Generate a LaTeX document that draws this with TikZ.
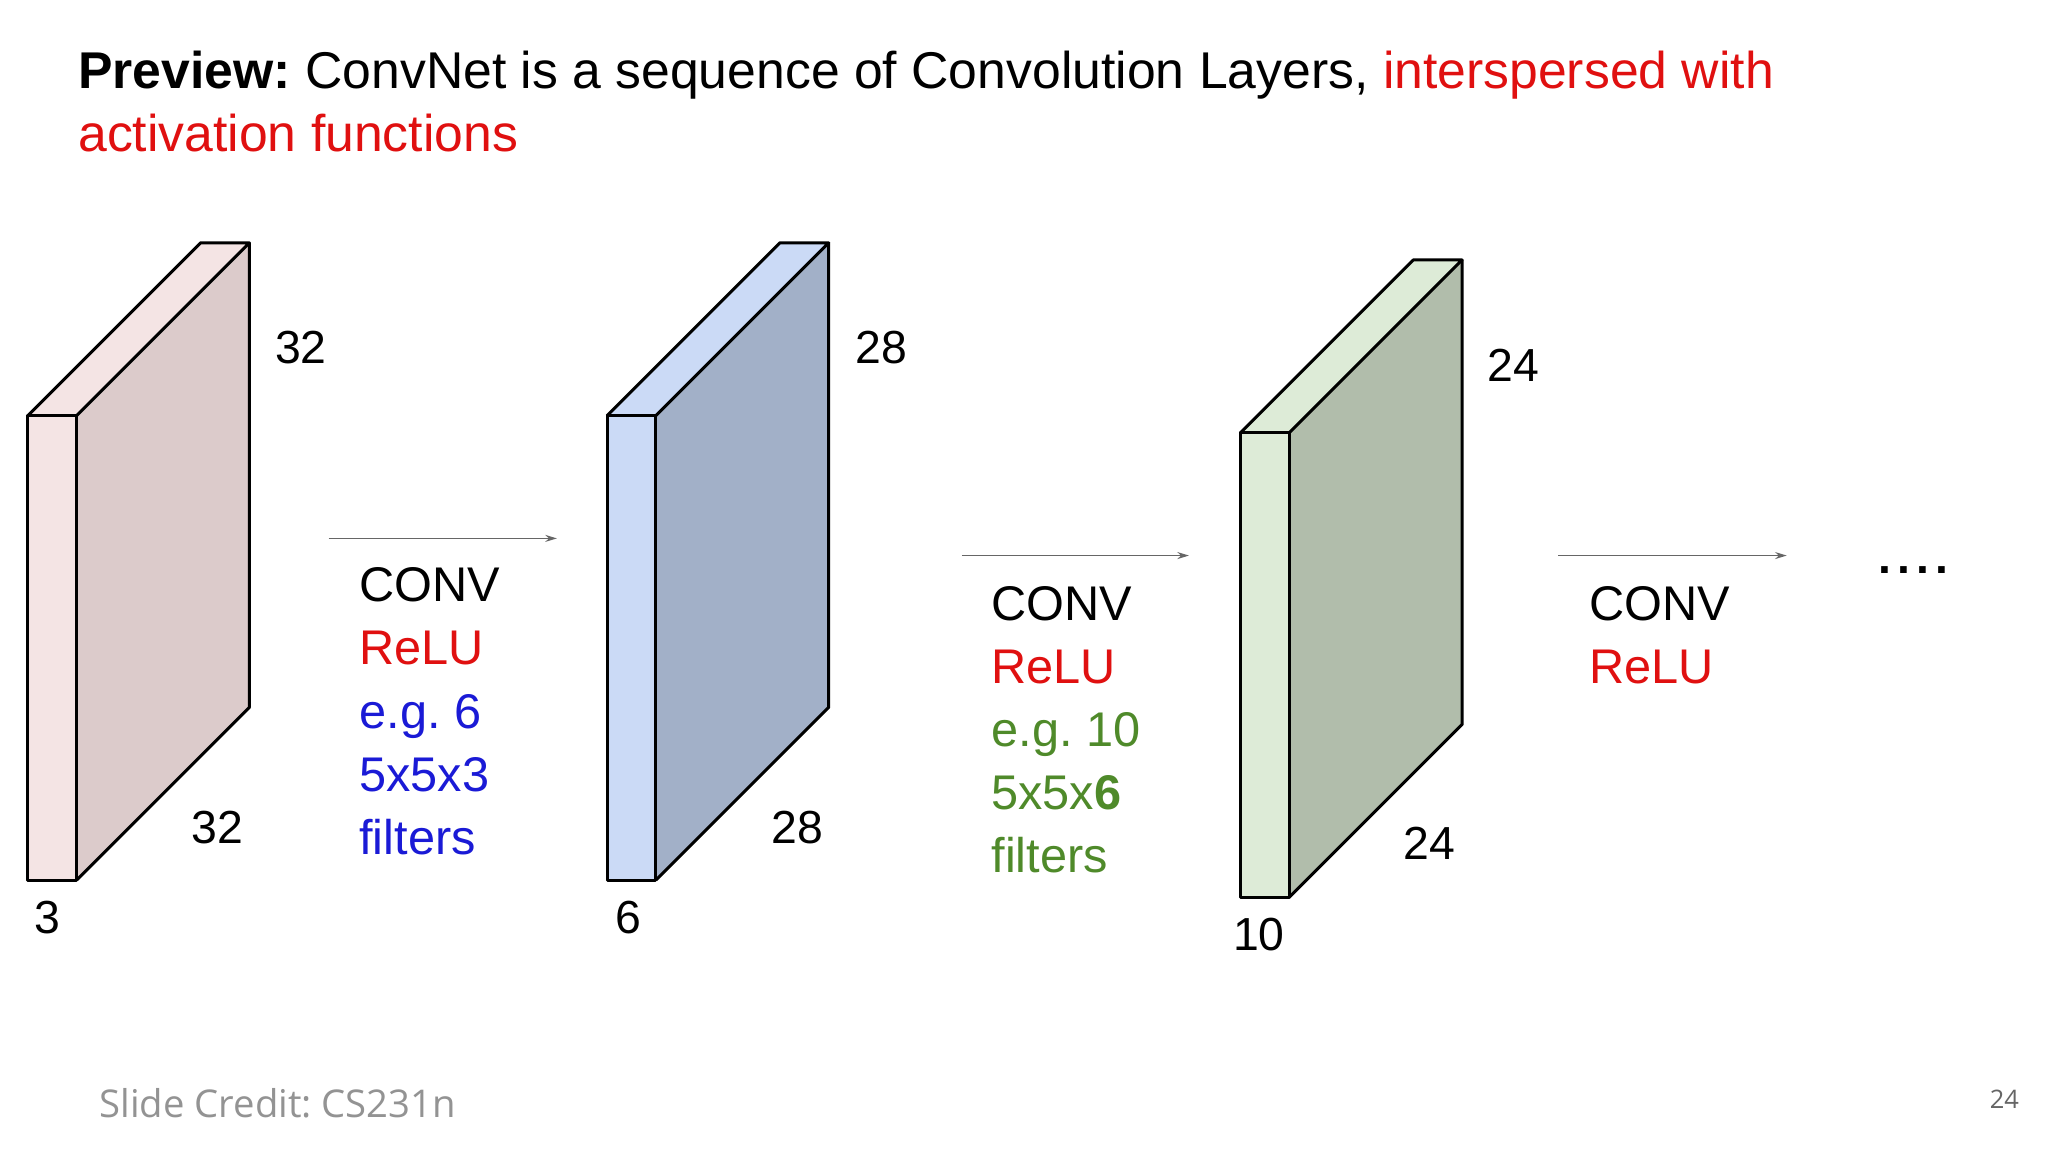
\documentclass[tikz,border=0pt]{standalone}
\usepackage{fontspec}
\usetikzlibrary{arrows.meta}
\setmainfont{Liberation Sans}
\newfontfamily\credfont{Open Sans}
\frenchspacing
\definecolor{cred}{HTML}{E01010}
\definecolor{cblue}{HTML}{1A1AD6}
\definecolor{cgreen}{HTML}{4F8A2A}
\definecolor{pinkF}{HTML}{F4E4E4}
\definecolor{pinkS}{HTML}{DCCBCB}
\definecolor{blueF}{HTML}{CBDAF6}
\definecolor{blueS}{HTML}{A2B0C8}
\definecolor{greenF}{HTML}{DDEBD7}
\definecolor{greenS}{HTML}{B1BDAB}
\tikzset{
 lbl/.style={font=\fontsize{20}{24}\selectfont, inner sep=0pt},
 blk/.style={font=\fontsize{21}{27.2}\selectfont, align=left, anchor=north west, inner sep=0pt},
 arr/.style={draw=gray!80!black, line width=0.7pt, -{Stealth[length=5pt,width=3pt]}},
 face/.style={draw=black, line width=1.3pt, line join=round}
}
\newcommand{\slab}[6]{%
 \fill[#3] (#1,#2) rectangle (#1+37,#2+352);
 \fill[#3] (#1,#2) -- (#1+37,#2) -- (#1+168,#2-131) -- (#1+131,#2-131) -- cycle;
 \fill[#4] (#1+37,#2) -- (#1+168,#2-131) -- (#1+168,#2+221) -- (#1+37,#2+352) -- cycle;
 \draw[face] (#1,#2) rectangle (#1+37,#2+352);
 \draw[face] (#1,#2) -- (#1+131,#2-131) -- (#1+168,#2-131) -- (#1+37,#2);
 \draw[face] (#1+168,#2-131) -- (#1+168,#2+221) -- (#1+37,#2+352);
}
\begin{document}
\begin{tikzpicture}[x=0.02cm,y=-0.02cm]
\useasboundingbox[fill=white] (0,0) rectangle (1552,873);
\node[anchor=base west, inner sep=0pt, font=\fontsize{22.3}{26}\selectfont] (t1) at (59,67) {\textbf{Preview:} ConvNet is a sequence of Convolution Layers, \textcolor{cred}{interspersed with}};
\node[anchor=base west, inner sep=0pt, font=\fontsize{22.3}{26}\selectfont, text=cred] (t2) at (59,115) {activation functions};

\slab{21}{315}{pinkF}{pinkS}{}{}
\slab{460}{315}{blueF}{blueS}{}{}
\slab{940}{328}{greenF}{greenS}{}{}

\node[lbl] (a1) at (228,263) {32};
\node[lbl] (a2) at (165,627) {32};
\node[lbl] (a3) at (36,695) {3};
\node[lbl] (b1) at (668,263) {28};
\node[lbl] (b2) at (604,627) {28};
\node[lbl] (b3) at (476,695) {6};
\node[lbl] (c1) at (1147,277) {24};
\node[lbl] (c2) at (1083,639) {24};
\node[lbl] (c3) at (954,708) {10};

\coordinate (p1) at (249,408); \coordinate (q1) at (422,408);
\coordinate (p2) at (729,421); \coordinate (q2) at (901,421);
\coordinate (p3) at (1181,421); \coordinate (q3) at (1354,421);
\draw[arr] (p1) -- (q1);
\draw[arr] (p2) -- (q2);
\draw[arr] (p3) -- (q3);

\node[blk] (k1) at (272,430) {CONV\\\textcolor{cred}{ReLU}\\\textcolor{cblue}{e.g. 6}\\\textcolor{cblue}{5x5x3}\\\textcolor{cblue}{filters}};
\node[blk] (k2) at (751,444) {CONV\\\textcolor{cred}{ReLU}\\\textcolor{cgreen}{e.g. 10}\\\textcolor{cgreen}{5x5x\textbf{6}}\\\textcolor{cgreen}{filters}};
\node[blk] (k3) at (1204,444) {CONV\\\textcolor{cred}{ReLU}};
\node[lbl] (dots) at (1450,432) {\textbf{.\kern2.5pt.\kern2.5pt.\kern2.5pt.}};

\node[anchor=base west, inner sep=0pt, text=gray!85, font=\credfont\fontsize{16.5}{20}\selectfont] (cr) at (75,847) {Slide Credit: CS231n};
\node[inner sep=0pt, text=gray!80!black, font=\credfont\fontsize{11}{13}\selectfont] (pg) at (1519,833) {24};
\end{tikzpicture}
\end{document}
